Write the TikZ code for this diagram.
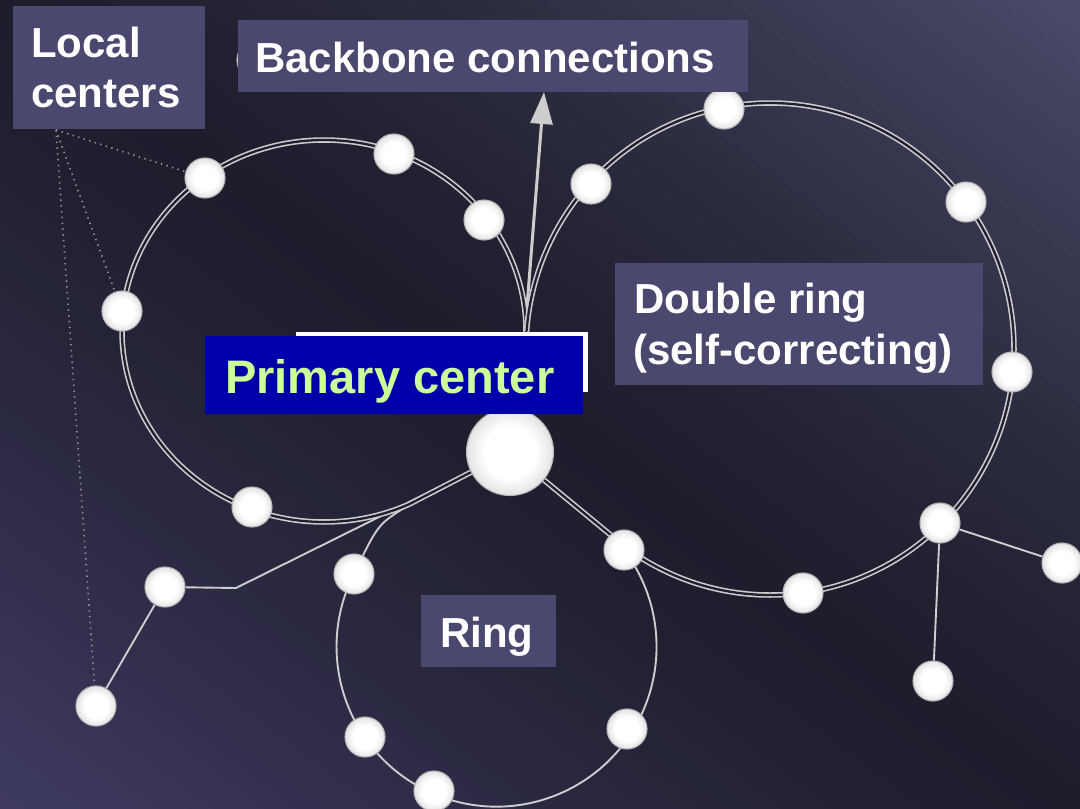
\documentclass[tikz,border=0pt]{standalone}
\usepackage{fontspec}
\setmainfont{Liberation Sans}
\usetikzlibrary{arrows.meta,calc}
\pgfdeclarelayer{bg}
\pgfdeclarelayer{lines}
\pgfdeclarelayer{top}
\pgfsetlayers{bg,lines,main,top}
\pgfdeclareradialshading{nball}{\pgfpoint{0bp}{0bp}}{color(0bp)=(white); color(15bp)=(white); color(25bp)=(black!11); color(50bp)=(black!11)}
\definecolor{bgA}{RGB}{74,74,106}
\definecolor{bgM}{RGB}{29,29,44}
\definecolor{bgB}{RGB}{63,59,98}
\definecolor{lgray}{RGB}{205,205,205}
\definecolor{dgap}{RGB}{32,32,48}
\definecolor{boxc}{RGB}{74,72,110}
\definecolor{pcblue}{RGB}{0,0,170}
\definecolor{pcgreen}{RGB}{204,255,153}
\begin{document}
\begin{tikzpicture}[x=1pt,y=-1pt,
  nd/.style={circle, minimum size=40, inner sep=0, shade, shading=nball, draw=black!28, line width=1.1},
  sgl/.style={draw=lgray, line width=1.9},
  dbl/.style={draw=lgray, line width=1.6, double=dgap, double distance=2.3},
  dotl/.style={draw=black!42!white, line width=1.6, dash pattern=on 1.4pt off 4.4pt},
  arr/.style={draw=lgray, line width=3, -{Triangle[length=32pt,width=22pt]}, fill=lgray},
  box/.style={fill=boxc, inner sep=0, anchor=north west},
  txt/.style={font=\fontsize{42}{50}\selectfont\bfseries, text=white, inner sep=0, anchor=base west},
  ptxt/.style={font=\fontsize{47}{56}\selectfont\bfseries, text=pcgreen, inner sep=0, anchor=base west}]
\useasboundingbox (0,0) rectangle (1080,809);
\begin{pgfonlayer}{bg}
\fill[bgM] (0,0) rectangle (1080,809);
\begin{scope}
\clip (0,0) rectangle (1080,809);
\foreach \i in {0,...,79}{
  \pgfmathsetmacro{\sa}{-647.5+\i*16.1875}
  \pgfmathsetmacro{\sb}{\sa+17.5}
  \pgfmathsetmacro{\sm}{\sa+8.09}
  \pgfmathsetmacro{\tpct}{min(100,100*(abs(\sm)/647.5)^1.3)}
  \ifdim\sm pt>0pt \colorlet{stripc}{bgA!\tpct!bgM}\else\colorlet{stripc}{bgB!\tpct!bgM}\fi
  \fill[stripc] ({540+(\sa)*0.5995-800.3}, {404.5-(\sa)*0.8003-599.5})
    -- ({540+(\sa)*0.5995+800.3}, {404.5-(\sa)*0.8003+599.5})
    -- ({540+(\sb)*0.5995+800.3}, {404.5-(\sb)*0.8003+599.5})
    -- ({540+(\sb)*0.5995-800.3}, {404.5-(\sb)*0.8003-599.5}) -- cycle;
}
\end{scope}
\end{pgfonlayer}
% nodes
\node[nd] (HN) at (257,60) {};
\node[nd] (L1) at (205,178) {};
\node[nd] (L2) at (394,154) {};
\node[nd] (L3) at (484,220) {};
\node[nd] (L4) at (122,311) {};
\node[nd] (L5) at (252,507) {};
\node[nd] (R1) at (591,184) {};
\node[nd] (R2) at (724,109) {};
\node[nd] (R3) at (966,202) {};
\node[nd] (R4) at (1012,372) {};
\node[nd] (R5) at (940,523) {};
\node[nd] (R6) at (803,593) {};
\node[nd] (R7) at (624,550) {};
\node[nd] (T1) at (1062,563) {};
\node[nd] (T2) at (933,681) {};
\node[nd] (B1) at (165,587) {};
\node[nd] (B2) at (96,706) {};
\node[nd] (RG1) at (354,574) {};
\node[nd] (RG2) at (365,737) {};
\node[nd] (RG3) at (434,791) {};
\node[nd] (RG4) at (627,729) {};
\node[nd, minimum size=87] (PC) at (510,452) {};
% coordinates
\coordinate (jL) at (526,331);
\coordinate (jR) at (526,349);
\coordinate (kB) at (236,588);
\coordinate (jX) at (409,505);
\coordinate (lc) at (56,130);
\coordinate (aS) at (525,332);
\coordinate (aT) at (544,92);
\begin{pgfonlayer}{lines}
\draw[arr] (aS) -- (aT);
\draw[sgl] (RG1.center) arc[start angle=207, end angle=-37, radius=160];
\draw[sgl] (RG1.center) .. controls (378,524) .. (jX);
\draw[sgl] (PC) -- (kB) -- (B1);
\draw[sgl] (B1) -- (B2);
\draw[sgl] (R5) -- (T1);
\draw[sgl] (R5) -- (T2);
\draw[dbl] (jL) arc[start angle=0, end angle=-295, x radius=202, y radius=191] -- (PC);
\draw[dbl] (jR) arc[start angle=180, end angle=486.2, x radius=244, y radius=246] -- (PC);
\draw[dbl] (jL) -- (PC);
\draw[dotl] (lc) -- (L1);
\draw[dotl] (lc) -- (L4);
\draw[dotl] (lc) -- (B2);
\end{pgfonlayer}
\begin{pgfonlayer}{top}
\node[fill=white, inner sep=0, anchor=north west, minimum width=292, minimum height=60] (PW) at (296,332) {};
\node[fill=pcblue, inner sep=0, anchor=north west, minimum width=378, minimum height=78] (PB) at (205,336) {};
\node[ptxt] (PT) at (225,393) {Primary center};
\node[box, minimum width=192, minimum height=123] (bLC) at (13,6) {};
\node[txt] (tLC1) at (31,57) {Local};
\node[txt] (tLC2) at (31,107) {centers};
\node[box, minimum width=510, minimum height=72] (bBB) at (238,20) {};
\node[txt] (tBB) at (255,72) {Backbone connections};
\node[box, minimum width=368, minimum height=122] (bDR) at (615,263) {};
\node[txt] (tDR1) at (634,313) {Double ring};
\node[txt] (tDR2) at (633,364) {(self-correcting)};
\node[box, minimum width=135, minimum height=72] (bRG) at (421,595) {};
\node[txt] (tRG) at (440,647) {Ring};
\end{pgfonlayer}
\end{tikzpicture}
\end{document}
